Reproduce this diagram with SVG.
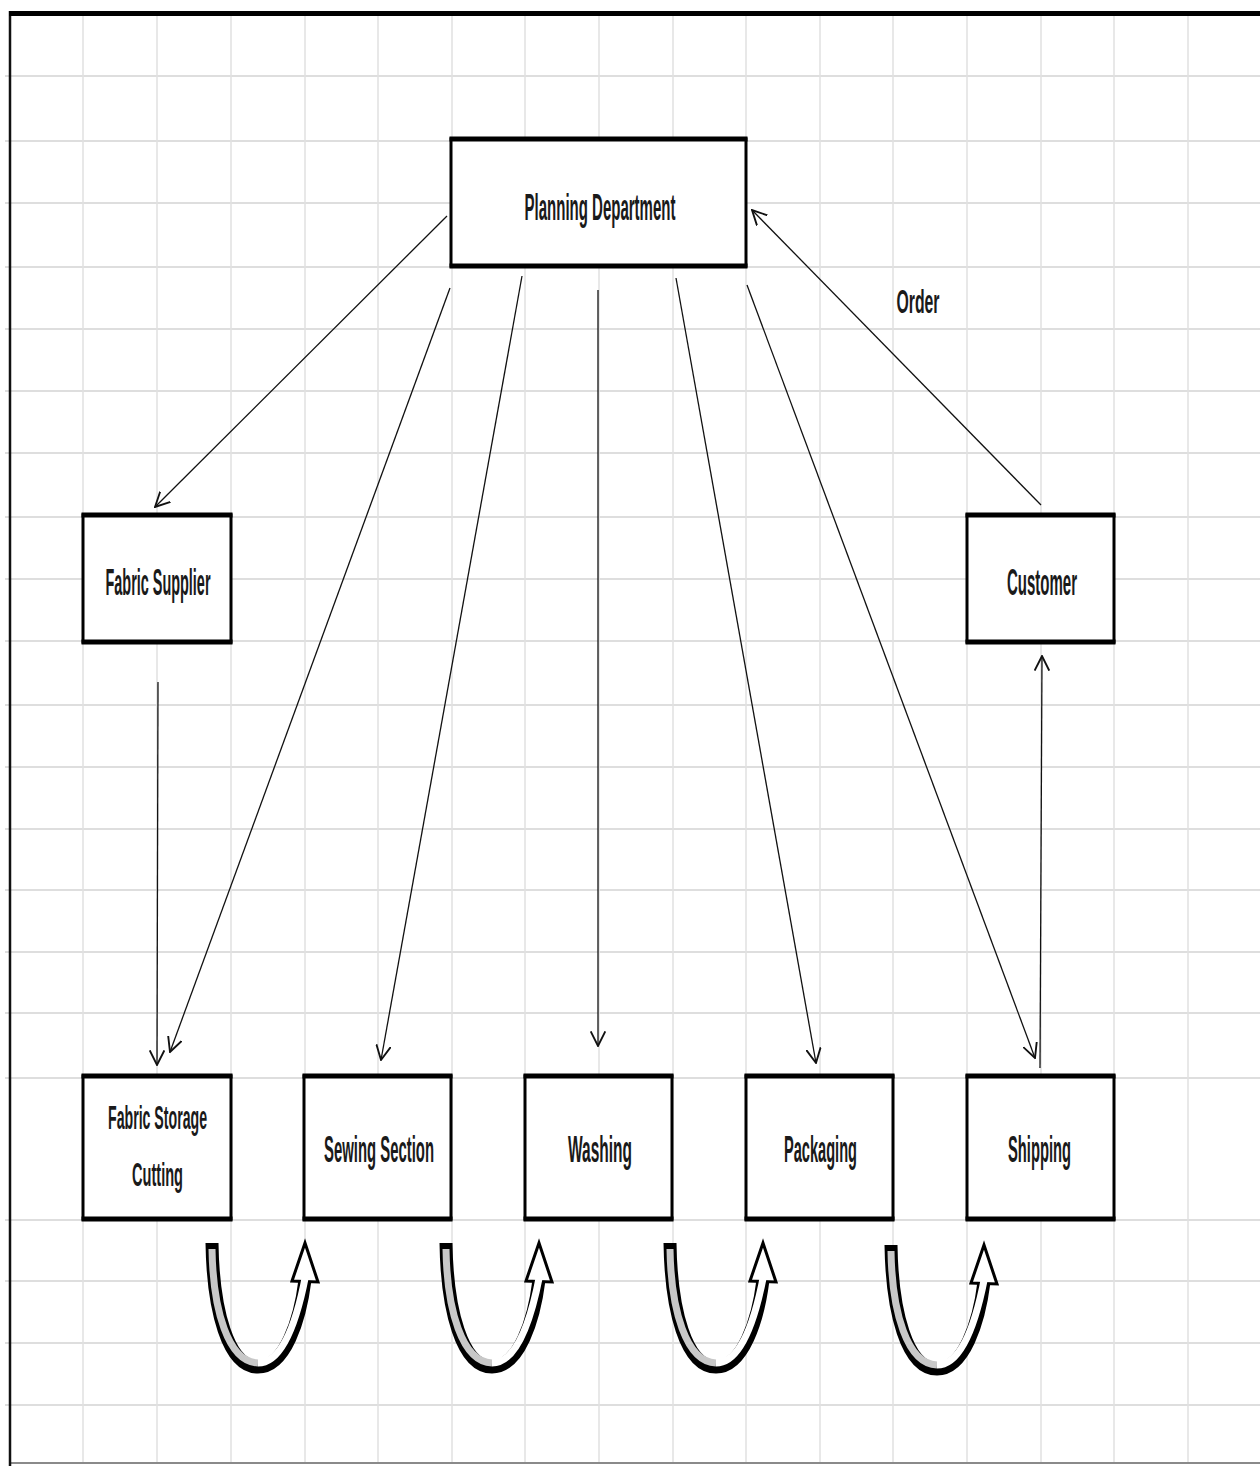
<svg xmlns="http://www.w3.org/2000/svg" xmlns:xlink="http://www.w3.org/1999/xlink" width="1260" height="1466" viewBox="0 0 1260 1466">
<style>
.gh{stroke:#dedede;stroke-width:2}
.gv{stroke:#e0e0e0;stroke-width:1.5}
.box{fill:#fff;stroke:#000;stroke-width:3}
.edge{stroke:#000;stroke-width:5}
.lbl{font-family:"Liberation Sans",Arial,sans-serif;font-weight:bold;fill:#1a1a1a;text-anchor:middle}
.c{stroke:#111;stroke-width:1.3;fill:none;marker-end:url(#ah)}
</style>
<defs>
<marker id="ah" markerUnits="userSpaceOnUse" markerWidth="16" markerHeight="16" viewBox="0 0 12 12" refX="11" refY="6" orient="auto">
<path d="M0,0.5 L11,6 L0,11.5" fill="none" stroke="#111" stroke-width="1.4"/>
</marker>
<g id="uturn">
<path d="M212,1243 C213,1310 228,1367 258,1367 C285,1367 300,1320 305,1280" fill="none" stroke="#000" stroke-width="13"/>
<polygon points="292,1281 305,1243 318,1282" fill="#fff" stroke="#000" stroke-width="3" stroke-linejoin="miter"/>
<path d="M212,1249 C213,1310 228,1362 258,1363" fill="none" stroke="#c8c8c8" stroke-width="7"/>
<path d="M258,1363 C283,1363 297,1320 305.5,1276" fill="none" stroke="#fff" stroke-width="7"/>
<rect x="206" y="1243" width="12" height="6" fill="#000"/>
</g>
</defs>
<rect width="1260" height="1466" fill="#fff"/>
<g id="grid">
<line class="gh" x1="5" y1="76" x2="1260" y2="76"/>
<line class="gh" x1="5" y1="141" x2="1260" y2="141"/>
<line class="gh" x1="5" y1="203" x2="1260" y2="203"/>
<line class="gh" x1="5" y1="267" x2="1260" y2="267"/>
<line class="gh" x1="5" y1="329" x2="1260" y2="329"/>
<line class="gh" x1="5" y1="391" x2="1260" y2="391"/>
<line class="gh" x1="5" y1="453" x2="1260" y2="453"/>
<line class="gh" x1="5" y1="517" x2="1260" y2="517"/>
<line class="gh" x1="5" y1="579" x2="1260" y2="579"/>
<line class="gh" x1="5" y1="641" x2="1260" y2="641"/>
<line class="gh" x1="5" y1="705" x2="1260" y2="705"/>
<line class="gh" x1="5" y1="767" x2="1260" y2="767"/>
<line class="gh" x1="5" y1="829" x2="1260" y2="829"/>
<line class="gh" x1="5" y1="890" x2="1260" y2="890"/>
<line class="gh" x1="5" y1="952" x2="1260" y2="952"/>
<line class="gh" x1="5" y1="1013" x2="1260" y2="1013"/>
<line class="gh" x1="5" y1="1078" x2="1260" y2="1078"/>
<line class="gh" x1="5" y1="1220" x2="1260" y2="1220"/>
<line class="gh" x1="5" y1="1281" x2="1260" y2="1281"/>
<line class="gh" x1="5" y1="1343" x2="1260" y2="1343"/>
<line class="gh" x1="5" y1="1405" x2="1260" y2="1405"/>
<line class="gv" x1="83" y1="13" x2="83" y2="1463"/>
<line class="gv" x1="157" y1="13" x2="157" y2="1463"/>
<line class="gv" x1="231" y1="13" x2="231" y2="1463"/>
<line class="gv" x1="305" y1="13" x2="305" y2="1463"/>
<line class="gv" x1="378" y1="13" x2="378" y2="1463"/>
<line class="gv" x1="452" y1="13" x2="452" y2="1463"/>
<line class="gv" x1="525" y1="13" x2="525" y2="1463"/>
<line class="gv" x1="599" y1="13" x2="599" y2="1463"/>
<line class="gv" x1="673" y1="13" x2="673" y2="1463"/>
<line class="gv" x1="746" y1="13" x2="746" y2="1463"/>
<line class="gv" x1="820" y1="13" x2="820" y2="1463"/>
<line class="gv" x1="893" y1="13" x2="893" y2="1463"/>
<line class="gv" x1="967" y1="13" x2="967" y2="1463"/>
<line class="gv" x1="1041" y1="13" x2="1041" y2="1463"/>
<line class="gv" x1="1114" y1="13" x2="1114" y2="1463"/>
<line class="gv" x1="1188" y1="13" x2="1188" y2="1463"/>
<line x1="10" y1="1463" x2="1260" y2="1463" stroke="#8a8a8a" stroke-width="2"/>
<line x1="10" y1="11" x2="10" y2="1466" stroke="#111" stroke-width="2.5"/>
<line x1="9" y1="13.5" x2="1260" y2="13.5" stroke="#000" stroke-width="5"/>
</g>
<g id="connectors">
<line class="c" x1="447" y1="216" x2="155" y2="507"/>
<line class="c" x1="450" y1="288" x2="170" y2="1052"/>
<line class="c" x1="522" y1="276" x2="381" y2="1060"/>
<line class="c" x1="598" y1="290" x2="598" y2="1046"/>
<line class="c" x1="676" y1="278" x2="816" y2="1063"/>
<line class="c" x1="747" y1="285" x2="1035" y2="1058"/>
<line class="c" x1="1041" y1="505" x2="752" y2="210"/>
<line class="c" x1="158" y1="682" x2="157" y2="1065"/>
<line class="c" x1="1040" y1="1068" x2="1042" y2="656"/>
<text class="lbl" x="918" y="313" font-size="34" textLength="43" lengthAdjust="spacingAndGlyphs">Order</text>
</g>
<g id="planning">
<rect class="box" x="451" y="139" width="295" height="127"/>
<line class="edge" x1="449.5" y1="139" x2="747.5" y2="139"/>
<line class="edge" x1="449.5" y1="266" x2="747.5" y2="266"/>
<text class="lbl" x="600" y="220" font-size="36" textLength="151" lengthAdjust="spacingAndGlyphs">Planning Department</text>
</g>
<g id="fabric-supplier">
<rect class="box" x="83" y="515" width="148" height="127"/>
<line class="edge" x1="81.5" y1="515" x2="232.5" y2="515"/>
<line class="edge" x1="81.5" y1="642" x2="232.5" y2="642"/>
<text class="lbl" x="158" y="595" font-size="36" textLength="105" lengthAdjust="spacingAndGlyphs">Fabric Supplier</text>
</g>
<g id="customer">
<rect class="box" x="967" y="515" width="147" height="127"/>
<line class="edge" x1="965.5" y1="515" x2="1115.5" y2="515"/>
<line class="edge" x1="965.5" y1="642" x2="1115.5" y2="642"/>
<text class="lbl" x="1042" y="595" font-size="36" textLength="70" lengthAdjust="spacingAndGlyphs">Customer</text>
</g>
<g id="fabric-storage">
<rect class="box" x="83" y="1076" width="148" height="143"/>
<line class="edge" x1="81.5" y1="1076" x2="232.5" y2="1076"/>
<line class="edge" x1="81.5" y1="1219" x2="232.5" y2="1219"/>
<text class="lbl" x="157.5" y="1129" font-size="34" textLength="99" lengthAdjust="spacingAndGlyphs">Fabric Storage</text>
<text class="lbl" x="157.5" y="1186" font-size="34" textLength="51" lengthAdjust="spacingAndGlyphs">Cutting</text>
</g>
<g id="sewing">
<rect class="box" x="304" y="1076" width="147" height="143"/>
<line class="edge" x1="302.5" y1="1076" x2="452.5" y2="1076"/>
<line class="edge" x1="302.5" y1="1219" x2="452.5" y2="1219"/>
<text class="lbl" x="379" y="1162" font-size="36" textLength="110" lengthAdjust="spacingAndGlyphs">Sewing Section</text>
</g>
<g id="washing">
<rect class="box" x="525" y="1076" width="147" height="143"/>
<line class="edge" x1="523.5" y1="1076" x2="673.5" y2="1076"/>
<line class="edge" x1="523.5" y1="1219" x2="673.5" y2="1219"/>
<text class="lbl" x="600" y="1162" font-size="36" textLength="64" lengthAdjust="spacingAndGlyphs">Washing</text>
</g>
<g id="packaging">
<rect class="box" x="746" y="1076" width="147" height="143"/>
<line class="edge" x1="744.5" y1="1076" x2="894.5" y2="1076"/>
<line class="edge" x1="744.5" y1="1219" x2="894.5" y2="1219"/>
<text class="lbl" x="820.5" y="1162" font-size="36" textLength="73" lengthAdjust="spacingAndGlyphs">Packaging</text>
</g>
<g id="shipping">
<rect class="box" x="967" y="1076" width="147" height="143"/>
<line class="edge" x1="965.5" y1="1076" x2="1115.5" y2="1076"/>
<line class="edge" x1="965.5" y1="1219" x2="1115.5" y2="1219"/>
<text class="lbl" x="1039.5" y="1162" font-size="36" textLength="63" lengthAdjust="spacingAndGlyphs">Shipping</text>
</g>
<g id="uturn-arrows">
<use xlink:href="#uturn"/>
<use xlink:href="#uturn" transform="translate(234,0)"/>
<use xlink:href="#uturn" transform="translate(458,0)"/>
<use xlink:href="#uturn" transform="translate(679,2)"/>
</g>
</svg>
